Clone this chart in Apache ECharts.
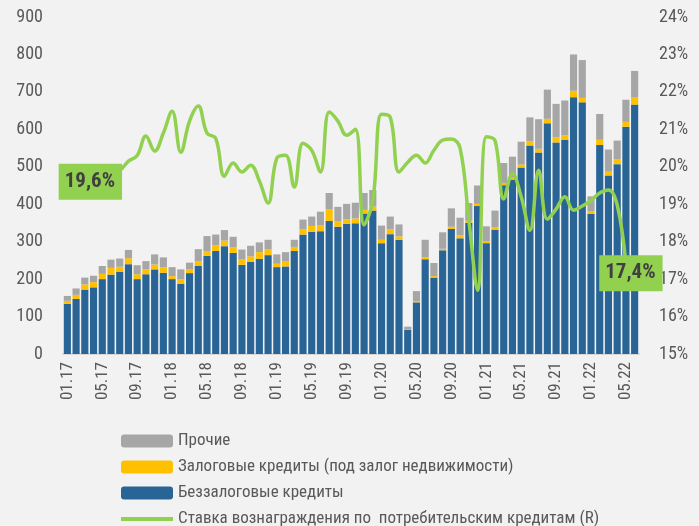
<!DOCTYPE html>
<html>
<head>
<meta charset="utf-8">
<script src="https://cdn.jsdelivr.net/npm/echarts@6/dist/echarts.min.js"></script>
<style>
  html, body { margin: 0; padding: 0; background: #f2f2f2; }
  #chart { width: 699px; height: 526px; }
</style>
</head>
<body>
<div id="chart"></div>
<script>
const months = [
  '01.17','02.17','03.17','04.17','05.17','06.17','07.17','08.17','09.17','10.17','11.17','12.17',
  '01.18','02.18','03.18','04.18','05.18','06.18','07.18','08.18','09.18','10.18','11.18','12.18',
  '01.19','02.19','03.19','04.19','05.19','06.19','07.19','08.19','09.19','10.19','11.19','12.19',
  '01.20','02.20','03.20','04.20','05.20','06.20','07.20','08.20','09.20','10.20','11.20','12.20',
  '01.21','02.21','03.21','04.21','05.21','06.21','07.21','08.21','09.21','10.21','11.21','12.21',
  '01.22','02.22','03.22','04.22','05.22','06.22'
];

// Беззалоговые кредиты
const unsecured = [
  134, 147, 172, 178, 200, 212, 220, 240, 200, 213, 226, 217,
  200, 187, 216, 235, 262, 275, 288, 270, 238, 246, 254, 264,
  232, 234, 275, 319, 326, 328, 355, 340, 348, 349, 375, 383,
  296, 320, 305, 65, 138, 253, 204, 277, 334, 309, 350, 395,
  296, 332, 451, 466, 498, 557, 538, 616, 565, 572, 686, 672,
  374, 558, 477, 507, 607, 666
];

// Залоговые кредиты (под залог недвижимости)
const secured = [
  8, 11, 14, 14, 14, 18, 13, 16, 13, 13, 13, 15,
  8, 13, 10, 13, 13, 15, 15, 15, 14, 15, 18, 16,
  9, 14, 11, 14, 16, 15, 32, 14, 12, 13, 10, 11,
  9, 13, 9, 1, 3, 5, 4, 4, 6, 8, 6, 6,
  5, 6, 6, 6, 8, 11, 10, 12, 14, 12, 17, 12,
  7, 14, 10, 13, 13, 19
];

// Прочие
const other = [
  13, 17, 18, 17, 21, 22, 22, 22, 24, 22, 27, 26,
  24, 26, 18, 32, 40, 29, 28, 28, 27, 28, 26, 25,
  25, 24, 19, 26, 25, 37, 43, 39, 41, 42, 45, 44,
  38, 34, 32, 7, 27, 47, 35, 44, 49, 47, 47, 49,
  40, 45, 53, 55, 61, 64, 79, 78, 89, 93, 97, 101,
  40, 69, 59, 50, 59, 71
];

// Ставка вознаграждения по потребительским кредитам, %
const rate = [
  19.6, 19.6, 19.7, 19.75, 19.8, 19.85, 19.9, 20.15, 20.3, 20.82, 20.42, 20.9,
  21.48, 20.39, 21.22, 21.62, 20.9, 20.76, 19.75, 20.1, 19.86, 20.04, 19.62, 19.03,
  20.23, 20.31, 19.46, 20.63, 20.44, 19.86, 21.46, 21.22, 20.84, 21.0, 18.45, 19.1,
  21.4, 21.32, 19.86, 20.12, 20.31, 20.1, 20.44, 20.71, 20.74, 20.5, 18.58, 16.7,
  20.8, 20.7, 19.14, 19.82, 19.2, 18.3, 19.91, 18.6, 18.87, 19.2, 18.84, 18.95,
  19.1, 19.3, 19.38, 18.98, 17.4
];

const FONT = "'Noto Sans Condensed', 'Roboto Condensed', Roboto, sans-serif";
const TEXT_COLOR = '#595959';
const LINE_NAME = 'Ставка вознаграждения по  потребительским кредитам (R)';

const boxLabel = (offset) => ({
  show: true,
  position: 'inside',
  offset: offset,
  formatter: (p) => String(p.value).replace('.', ',') + '%',
  backgroundColor: '#92d050',
  color: '#404040',
  fontFamily: FONT,
  fontSize: 21,
  fontWeight: 'bold',
  padding: [8, 7, 7, 6],
});

const rateData = rate.map((v, i) => {
  if (i === 0) return { value: v, symbol: 'rect', symbolSize: 1, label: boxLabel([23, 0]) };
  if (i === rate.length - 1) return { value: v, symbol: 'rect', symbolSize: 1, label: boxLabel([5, 9]) };
  return v;
});

const chart = echarts.init(document.getElementById('chart'));

chart.setOption({
  backgroundColor: '#f2f2f2',
  animation: false,
  textStyle: { fontFamily: FONT, color: TEXT_COLOR },
  grid: { left: 63, right: 60, top: 17, bottom: 172, containLabel: false },
  legend: {
    orient: 'vertical',
    left: 114,
    top: 426,
    height: 120,
    itemWidth: 52,
    itemHeight: 13,
    itemGap: 6,
    textStyle: { fontFamily: FONT, fontSize: 17, color: TEXT_COLOR, lineHeight: 20 },
    data: [
      { name: 'Прочие' },
      { name: 'Залоговые кредиты (под залог недвижимости)' },
      { name: 'Беззалоговые кредиты' },
      { name: LINE_NAME, itemStyle: { opacity: 0 }, lineStyle: { width: 4 } },
    ],
  },
  xAxis: {
    type: 'category',
    data: months,
    axisLine: { lineStyle: { color: '#d9d9d9', width: 2 } },
    axisTick: { show: false },
    axisLabel: {
      interval: 3,
      rotate: 90,
      margin: 8,
      fontFamily: FONT,
      fontSize: 17,
      color: TEXT_COLOR,
    },
  },
  yAxis: [
    {
      type: 'value',
      min: 0,
      max: 900,
      interval: 100,
      splitLine: { show: false },
      axisLine: { show: false },
      axisTick: { show: false },
      axisLabel: { margin: 20, fontFamily: FONT, fontSize: 18, color: TEXT_COLOR },
    },
    {
      type: 'value',
      position: 'right',
      min: 15,
      max: 24,
      interval: 1,
      splitLine: { show: false },
      axisLine: { show: false },
      axisTick: { show: false },
      axisLabel: { margin: 20, formatter: '{value}%', fontFamily: FONT, fontSize: 18, color: TEXT_COLOR },
    },
  ],
  series: [
    {
      name: 'Беззалоговые кредиты',
      type: 'bar',
      stack: 'loans',
      data: unsecured,
      barCategoryGap: '18%',
      itemStyle: { color: '#296496' },
    },
    {
      name: 'Залоговые кредиты (под залог недвижимости)',
      type: 'bar',
      stack: 'loans',
      data: secured,
      itemStyle: { color: '#ffc000' },
    },
    {
      name: 'Прочие',
      type: 'bar',
      stack: 'loans',
      data: other,
      itemStyle: { color: '#a6a6a6' },
    },
    {
      name: LINE_NAME,
      type: 'line',
      yAxisIndex: 1,
      data: rateData,
      smooth: 0.4,
      symbol: 'none',
      z: 5,
      lineStyle: { color: '#92d050', width: 3.5 },
      itemStyle: { color: '#92d050' },
    },
  ],
});
</script>
</body>
</html>
